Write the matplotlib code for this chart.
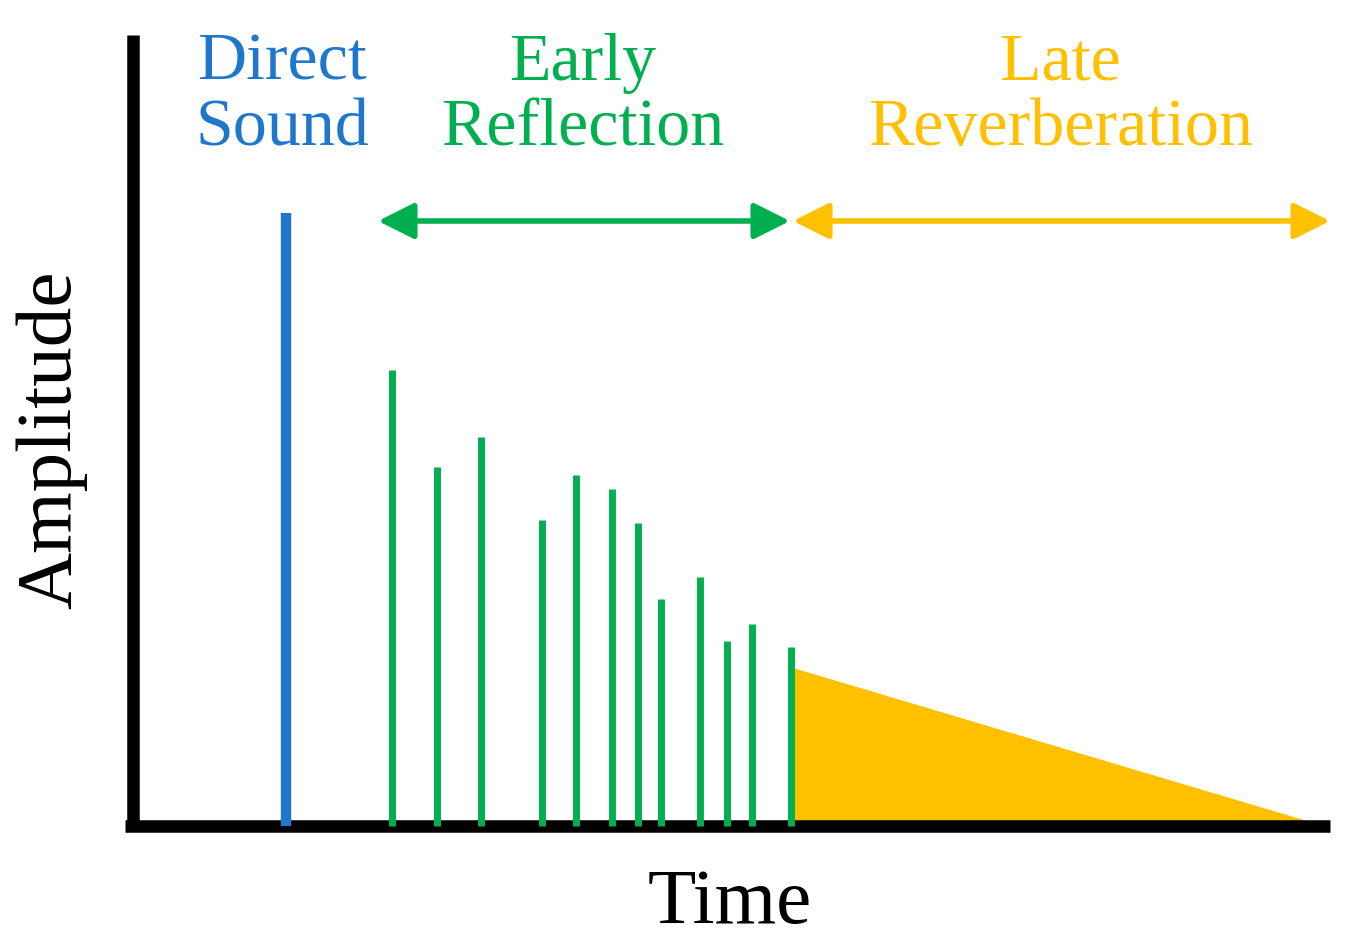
import matplotlib
matplotlib.use('Agg')
import matplotlib.pyplot as plt

# values (time in px-like units, amplitude above baseline)
direct_t = [286]
direct_a = [613]
early_t = [392, 437, 481, 542, 576, 612, 638, 661, 700, 727, 752, 791]
early_a = [456, 359, 389, 306, 351, 337, 303, 227, 249, 185, 202, 179]
late_t = [791, 1325]
late_a = [159, 0]

BLUE = '#1F77CC'
GREEN = '#00B050'
GOLD = '#FFC000'
FONT = ['Liberation Serif', 'DejaVu Serif']

fig = plt.figure(figsize=(13.62, 9.48), dpi=100)
ax = fig.add_axes([0, 0, 1, 1])
ax.set_xlim(0, 1362)
ax.set_ylim(-122, 826)
ax.axis('off')

# axes lines
ax.plot([133, 133], [0, 791], color='black', lw=9, solid_capstyle='butt')
ax.plot([125, 1330], [0, 0], color='black', lw=9, solid_capstyle='butt')

ax.vlines(direct_t, 0, direct_a, color=BLUE, lw=7.5)
ax.vlines(early_t, 0, early_a, color=GREEN, lw=5)
ax.fill_between(late_t, 0, late_a, color=GOLD, lw=0)

arrow_kw = dict(arrowstyle='<|-|>,head_length=2.2,head_width=1.1', lw=4,
                shrinkA=0, shrinkB=0)
ax.annotate('', xy=(790, 605), xytext=(378, 605),
            arrowprops=dict(color=GREEN, **arrow_kw))
ax.annotate('', xy=(1330, 605), xytext=(793, 605),
            arrowprops=dict(color=GOLD, **arrow_kw))

fs = 49
ax.text(282, 730, 'Direct\nSound', color=BLUE, fontsize=fs, family=FONT,
        ha='center', va='center', linespacing=1.1)
ax.text(583, 730, 'Early\nReflection', color=GREEN, fontsize=fs, family=FONT,
        ha='center', va='center', linespacing=1.1)
ax.text(1060, 730, 'Late\nReverberation', color=GOLD, fontsize=fs, family=FONT,
        ha='center', va='center', linespacing=1.1)
ax.text(52, 386, 'Amplitude', color='black', fontsize=57, family=FONT,
        ha='center', va='center', rotation=90)
ax.text(730, -78, 'Time', color='black', fontsize=57, family=FONT,
        ha='center', va='center')

fig.savefig('out.png', dpi=100, facecolor='white')
